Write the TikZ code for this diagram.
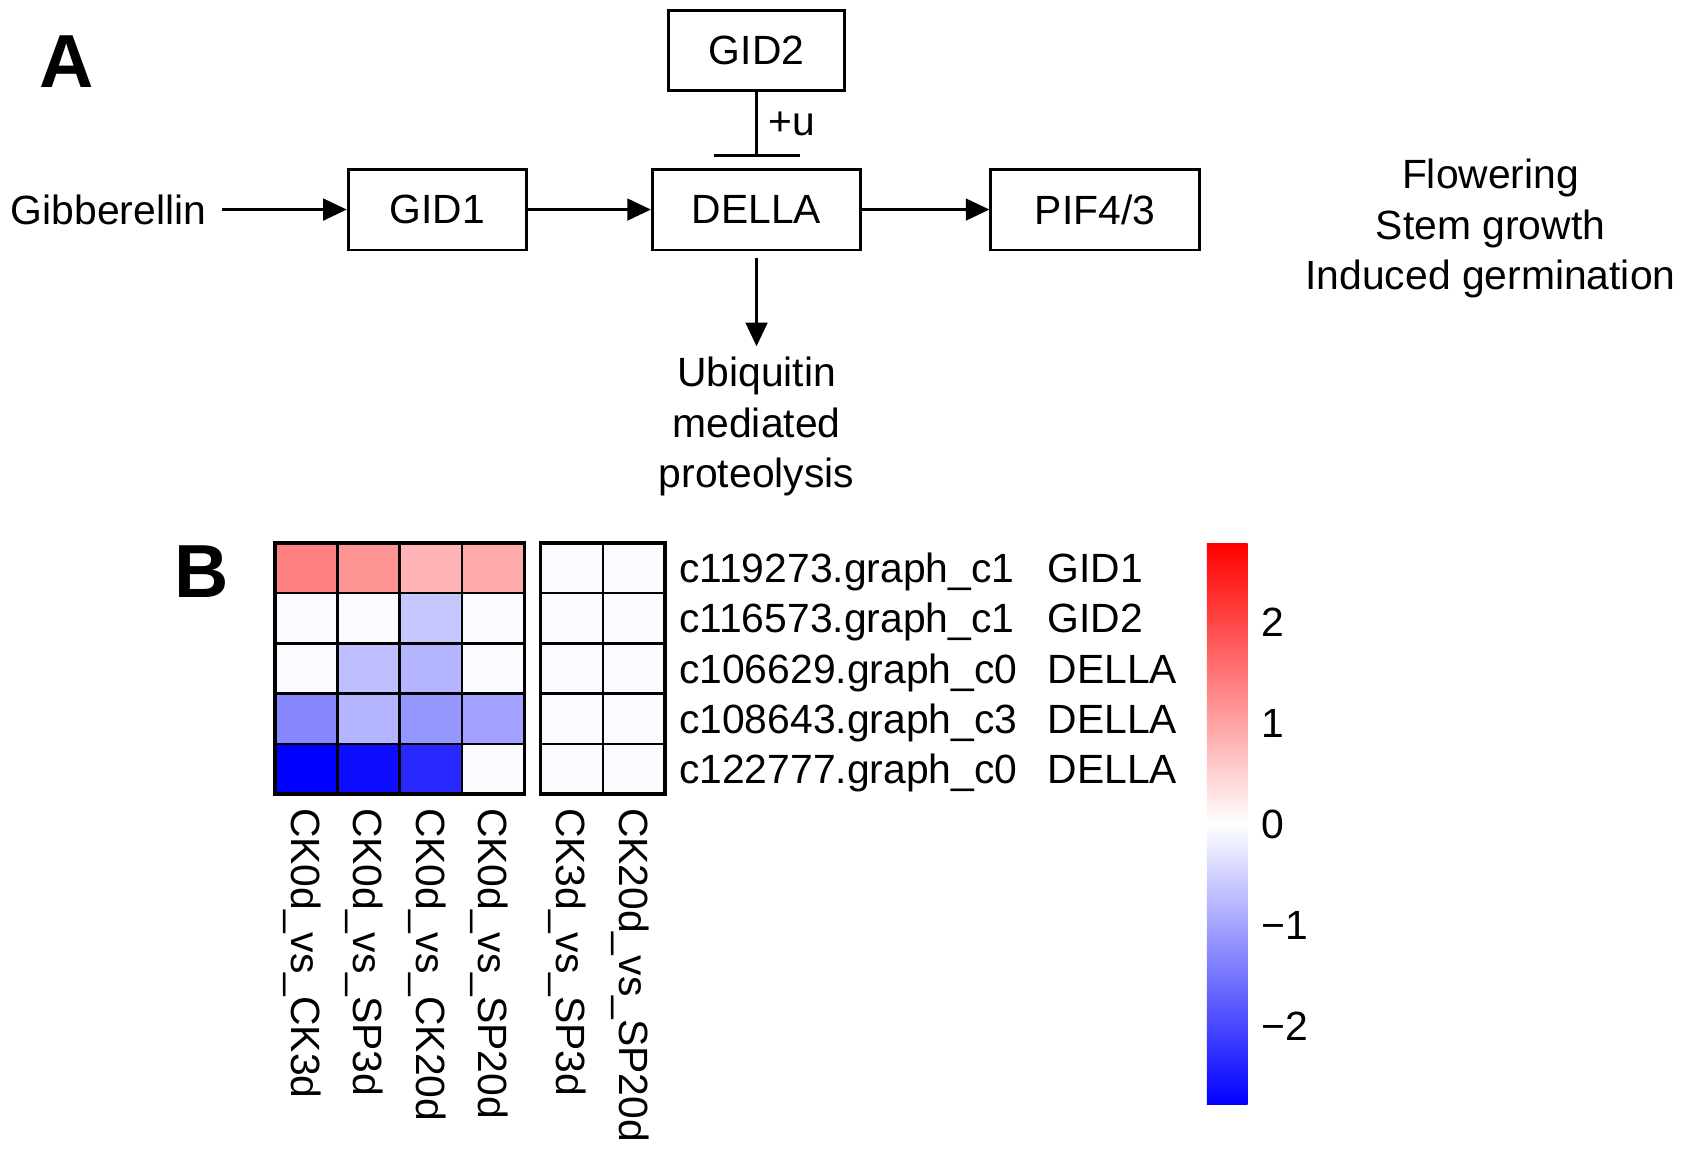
\documentclass[tikz,border=0pt]{standalone}
\usepackage{fontspec}
\setmainfont{Liberation Sans}
\usetikzlibrary{arrows.meta}

\begin{document}
\begin{tikzpicture}[x=1pt, y=-1pt,
  font=\fontsize{38}{47}\selectfont,
  box/.style={draw, line width=2.5pt, minimum height=75pt, inner sep=0pt},
  arr/.style={line width=3pt, -{Triangle[length=22pt, width=20pt]}},
  cell/.style={draw, line width=2.5pt},
  lbl/.style={inner sep=0pt, outer sep=0pt},
  panel/.style={lbl, font=\fontsize{70}{70}\selectfont\bfseries}]

  \useasboundingbox (0,0) rectangle (1568,1072);

  % A: signalling pathway
  \node[panel] (labA) at (62,57) {A};
  \node[lbl] (gib) at (101,195) {Gibberellin};
  \node[box, minimum width=166pt] (gid1) at (407,195) {GID1};
  \node[box, minimum width=194pt] (della) at (704,195) {DELLA};
  \node[box, minimum width=164pt, minimum height=74pt] (gid2) at (704,47) {GID2};
  \node[box, minimum width=194pt] (pif) at (1019,195) {PIF4/3};
  \node[lbl, align=center] (ubi) at (704,397) {Ubiquitin\\mediated\\proteolysis};
  \node[lbl, align=center] (flow) at (1387,213) {Flowering\\Stem growth\\Induced germination};

  \draw[arr, shorten <=15pt] (gib) -- (gid1);
  \draw[arr] (gid1) -- (della);
  \draw[arr] (della) -- (pif);
  \draw[line width=3pt, -{Bar[width=80pt]}, shorten >=10pt] (gid2) -- (della)
    node[lbl, pos=0.42, right=11pt] (plusu) {+u};
  \draw[arr, shorten <=6pt, shorten >=10pt] (della) -- (ubi);

  % B: heatmap
  \node[panel] (labB) at (188,532) {B};
  \foreach \cols [count=\r] in {{red!50,red!42,red!29,red!33,blue!2,blue!2},
      {blue!2,blue!2,blue!22,blue!2,blue!2,blue!2},
      {blue!2,blue!25,blue!29,blue!2,blue!2,blue!2},
      {blue!47,blue!29,blue!41,blue!37,blue!2,blue!2},
      {blue,blue!95,blue!84,blue!2,blue!2,blue!2}}
    \foreach \c [count=\k] in \cols {
      \pgfmathsetmacro\xl{256+(\k-1)*58+(\k>4)*15}
      \filldraw[cell, fill=\c] (\xl,{505+(\r-1)*46.8}) rectangle ++(58,46.8);
    }
  \draw[line width=3.5pt] (256,505) rectangle (488,739);
  \draw[line width=3.5pt] (503,505) rectangle (619,739);

  \foreach \id/\gene [count=\r] in {c119273.graph\_c1/GID1, c116573.graph\_c1/GID2,
      c106629.graph\_c0/DELLA, c108643.graph\_c3/DELLA, c122777.graph\_c0/DELLA} {
    \node[lbl, anchor=base west] (row\r) at (632,{505+(\r-0.5)*46.8+13.6}) {\id};
    \node[lbl, anchor=base west] (gene\r) at (975,{505+(\r-0.5)*46.8+13.6}) {\gene};
  }

  \foreach \name [count=\k] in {CK0d\_vs\_CK3d, CK0d\_vs\_SP3d, CK0d\_vs\_CK20d,
      CK0d\_vs\_SP20d, CK3d\_vs\_SP3d, CK20d\_vs\_SP20d} {
    \pgfmathsetmacro\xc{256+(\k-0.5)*58+(\k>4)*15}
    \node[lbl, text depth=0pt, rotate=-90, anchor=west] (col\k) at (\xc,752) {\name};
  }

  % colour key
  \shade[top color=red, bottom color=white] (1123,506) rectangle (1161,767);
  \shade[top color=white, bottom color=blue] (1123,767) rectangle (1161,1028);
  \foreach \v/\t [count=\i] in {2/2, 1/1, 0/0, -1/−1, -2/−2}
    \node[lbl, anchor=west] (tick\i) at (1174,{767-\v*94}) {\t};
\end{tikzpicture}
\end{document}
